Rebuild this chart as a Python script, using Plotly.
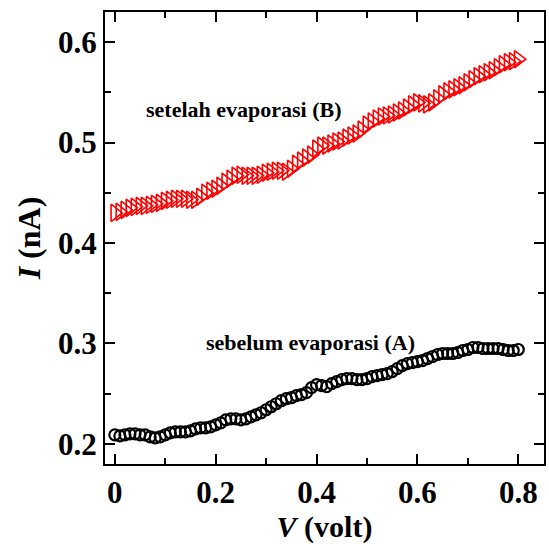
import plotly.graph_objects as go

voltage = [0.00, 0.01, 0.02, 0.03, 0.04, 0.05, 0.06, 0.07, 0.08, 0.09,
           0.10, 0.11, 0.12, 0.13, 0.14, 0.15, 0.16, 0.17, 0.18, 0.19,
           0.20, 0.21, 0.22, 0.23, 0.24, 0.25, 0.26, 0.27, 0.28, 0.29,
           0.30, 0.31, 0.32, 0.33, 0.34, 0.35, 0.36, 0.37, 0.38, 0.39,
           0.40, 0.41, 0.42, 0.43, 0.44, 0.45, 0.46, 0.47, 0.48, 0.49,
           0.50, 0.51, 0.52, 0.53, 0.54, 0.55, 0.56, 0.57, 0.58, 0.59,
           0.60, 0.61, 0.62, 0.63, 0.64, 0.65, 0.66, 0.67, 0.68, 0.69,
           0.70, 0.71, 0.72, 0.73, 0.74, 0.75, 0.76, 0.77, 0.78, 0.79,
           0.80]

current_before = [0.209, 0.208, 0.209, 0.210, 0.210, 0.209, 0.209, 0.207, 0.206, 0.207,
                  0.209, 0.211, 0.212, 0.212, 0.212, 0.213, 0.215, 0.216, 0.216, 0.217,
                  0.219, 0.221, 0.224, 0.225, 0.225, 0.224, 0.225, 0.227, 0.229, 0.231,
                  0.234, 0.237, 0.240, 0.243, 0.245, 0.246, 0.248, 0.249, 0.251, 0.256,
                  0.259, 0.258, 0.257, 0.260, 0.262, 0.264, 0.265, 0.265, 0.264, 0.264,
                  0.265, 0.267, 0.268, 0.269, 0.270, 0.272, 0.275, 0.278, 0.280, 0.281,
                  0.282, 0.283, 0.285, 0.287, 0.289, 0.290, 0.290, 0.290, 0.291, 0.293,
                  0.294, 0.296, 0.296, 0.295, 0.295, 0.295, 0.295, 0.294, 0.293, 0.293,
                  0.294]

current_after = [0.430, 0.431, 0.433, 0.435, 0.436, 0.437, 0.437, 0.438, 0.439, 0.440,
                 0.442, 0.443, 0.444, 0.444, 0.444, 0.443, 0.443, 0.446, 0.450, 0.452,
                 0.454, 0.457, 0.461, 0.464, 0.467, 0.468, 0.467, 0.467, 0.467, 0.468,
                 0.470, 0.471, 0.472, 0.472, 0.471, 0.474, 0.479, 0.482, 0.485, 0.488,
                 0.494, 0.497, 0.497, 0.499, 0.501, 0.502, 0.505, 0.507, 0.509, 0.513,
                 0.518, 0.521, 0.524, 0.526, 0.527, 0.528, 0.530, 0.532, 0.535, 0.538,
                 0.540, 0.539, 0.538, 0.540, 0.544, 0.548, 0.551, 0.553, 0.555, 0.557,
                 0.560, 0.563, 0.566, 0.568, 0.570, 0.572, 0.575, 0.578, 0.580, 0.581,
                 0.583]

x_ticks = [0, 0.2, 0.4, 0.6, 0.8]
x_tick_labels = ["0", "0.2", "0.4", "0.6", "0.8"]
y_ticks = [0.2, 0.3, 0.4, 0.5, 0.6]
y_tick_labels = ["0.2", "0.3", "0.4", "0.5", "0.6"]

FONT = "Liberation Serif"

fig = go.Figure()
fig.add_trace(go.Scatter(
    x=voltage, y=current_before, mode="markers", name="sebelum evaporasi (A)",
    marker=dict(symbol="circle-open", size=11, color="black", line=dict(width=2.2, color="black")),
))
fig.add_trace(go.Scatter(
    x=voltage, y=current_after, mode="markers", name="setelah evaporasi (B)",
    marker=dict(symbol="triangle-right-open", size=15, color="red", line=dict(width=1.6, color="red")),
))

axis_common = dict(
    showline=True, linecolor="black", linewidth=2, mirror="allticks",
    ticks="inside", ticklen=10, tickwidth=2, tickcolor="black",
    showgrid=False, zeroline=False,
    tickfont=dict(family=FONT, size=31, color="black", weight="bold"),
)

fig.update_xaxes(
    range=[-0.0195, 0.851], tickvals=x_ticks, ticktext=x_tick_labels,
    minor=dict(dtick=0.1, tick0=0, ticks="inside", ticklen=6, tickwidth=2, tickcolor="black"),
    title=dict(text="<i>V</i> (volt)", font=dict(family=FONT, size=30, color="black", weight="bold"), standoff=10),
    **axis_common,
)
fig.update_yaxes(
    range=[0.180, 0.630], tickvals=y_ticks, ticktext=y_tick_labels,
    minor=dict(dtick=0.05, tick0=0, ticks="inside", ticklen=6, tickwidth=2, tickcolor="black"),
    title=dict(text="<i>I</i> (nA)", font=dict(family=FONT, size=32, color="black", weight="bold"), standoff=8),
    **axis_common,
)

fig.add_annotation(x=0.256, y=0.533, xref="x", yref="y", text="setelah evaporasi (B)",
                   showarrow=False, font=dict(family=FONT, size=22, color="black", weight="bold"))
fig.add_annotation(x=0.387, y=0.301, xref="x", yref="y", text="sebelum evaporasi (A)",
                   showarrow=False, font=dict(family=FONT, size=22, color="black", weight="bold"))

fig.update_layout(
    width=549, height=544,
    margin=dict(l=105, r=3, t=12, b=69),
    paper_bgcolor="white", plot_bgcolor="white",
    showlegend=False,
)

fig.write_html("out.html", config={"displayModeBar": False},
               post_script="document.body.style.margin='0';")
